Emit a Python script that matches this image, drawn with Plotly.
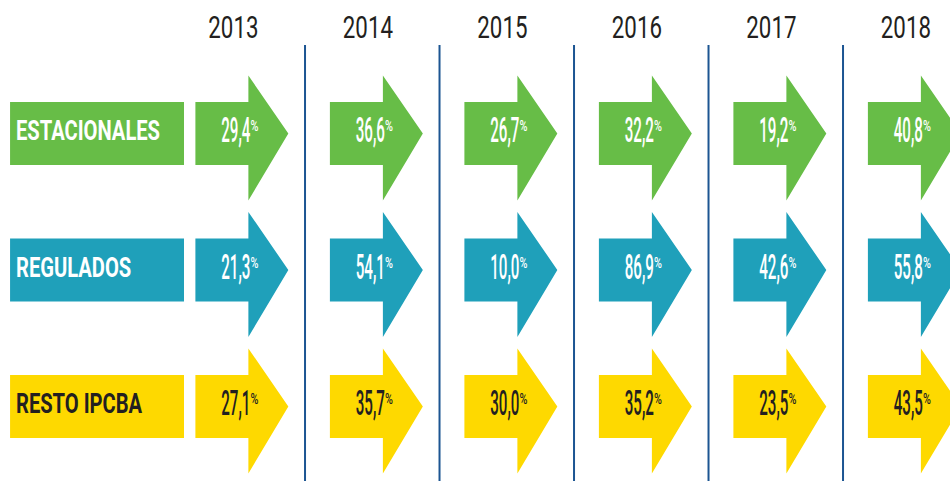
import plotly.graph_objects as go

# ---------------- data ----------------
years = ["2013", "2014", "2015", "2016", "2017", "2018"]
categories = ["ESTACIONALES", "REGULADOS", "RESTO IPCBA"]
estacionales = [29.4, 36.6, 26.7, 32.2, 19.2, 40.8]
regulados = [21.3, 54.1, 10.0, 86.9, 42.6, 55.8]
resto_ipcba = [27.1, 35.7, 30.0, 35.2, 23.5, 43.5]
series = [estacionales, regulados, resto_ipcba]

# ---------------- styles / layout constants ----------------
fill_colors = ["#67bd47", "#1fa0ba", "#fed900"]
text_colors = ["#ffffff", "#ffffff", "#231f20"]
line_color = "#1c5592"
dark = "#231f20"

BODY_W = 0.394      # arrow body length (column units)
ARROW_LEN = 0.691   # arrow total length
BODY_H = 0.2308     # half height of the body (row units)
HEAD_UP = 0.425     # head extent above centre
HEAD_DN = 0.491     # head extent below centre
NUM_END_DX = 0.409  # where the number ends / % starts
PCT_DY = -0.045
YEAR_DX = 0.2825
YEAR_Y = -0.758
LAB_X0, LAB_X1 = -1.378, -0.0848
LAB_TX = -1.334
LINE_DX = 0.815
LINE_Y0, LINE_Y1 = -0.648, 2.7

fig = go.Figure()

# label boxes
for r, cat in enumerate(categories):
    fig.add_trace(go.Scatter(
        x=[LAB_X0, LAB_X1, LAB_X1, LAB_X0, LAB_X0],
        y=[r - BODY_H, r - BODY_H, r + BODY_H, r + BODY_H, r - BODY_H],
        mode="lines", fill="toself", fillcolor=fill_colors[r],
        line=dict(width=0), hoverinfo="skip", showlegend=False))

# arrows
for r, vals in enumerate(series):
    for c, v in enumerate(vals):
        x0 = c
        xb = c + BODY_W
        xt = c + ARROW_LEN
        fig.add_trace(go.Scatter(
            x=[x0, xb, xb, xt, xb, xb, x0, x0],
            y=[r - BODY_H, r - BODY_H, r - HEAD_UP, r, r + HEAD_DN, r + BODY_H, r + BODY_H, r - BODY_H],
            mode="lines", fill="toself", fillcolor=fill_colors[r],
            line=dict(width=0), hoverinfo="skip", showlegend=False))

# separator lines
lx, ly = [], []
for c in range(len(years) - 1):
    lx += [c + LINE_DX, c + LINE_DX, None]
    ly += [LINE_Y0, LINE_Y1, None]
fig.add_trace(go.Scatter(x=lx, y=ly, mode="lines",
                         line=dict(color=line_color, width=2),
                         hoverinfo="skip", showlegend=False))

# value texts (number + small superscript %)
for r, vals in enumerate(series):
    fig.add_trace(go.Scatter(
        x=[c + NUM_END_DX for c in range(len(vals))], y=[r] * len(vals),
        mode="text", text=[f"{v:.1f}".replace(".", ",") for v in vals],
        textposition="middle left",
        textfont=dict(family="Roboto", size=36, color=text_colors[r], weight=500),
        hoverinfo="skip", showlegend=False))
    fig.add_trace(go.Scatter(
        x=[c + NUM_END_DX for c in range(len(vals))], y=[r + PCT_DY] * len(vals),
        mode="text", text=["%"] * len(vals), textposition="middle right",
        textfont=dict(family="Roboto", size=15, color=text_colors[r], weight=500),
        hoverinfo="skip", showlegend=False))

# category labels
for r, cat in enumerate(categories):
    fig.add_trace(go.Scatter(
        x=[LAB_TX], y=[r], mode="text", text=[cat], textposition="middle right",
        textfont=dict(family="Roboto", size=28, color=text_colors[r], weight="bold"),
        hoverinfo="skip", showlegend=False))

# year labels
fig.add_trace(go.Scatter(
    x=[c + YEAR_DX for c in range(len(years))], y=[YEAR_Y] * len(years),
    mode="text", text=years, textposition="middle center",
    textfont=dict(family="Roboto", size=31, color=dark),
    hoverinfo="skip", showlegend=False))

fig.update_layout(
    width=950, height=481,
    margin=dict(l=0, r=0, t=0, b=0),
    paper_bgcolor="white", plot_bgcolor="white",
    xaxis=dict(range=[-1.4528, 5.6104], visible=False, fixedrange=True),
    yaxis=dict(range=[2.546, -0.978], visible=False, fixedrange=True),
    showlegend=False,
)

# remove page margin; condensed look: compress text horizontally around its anchor
post = """
document.body.style.margin = '0';
var gd = document.getElementById('{plot_id}');
var S = {'36px': 0.42, '15px': 0.72, '28px': 0.72, '31px': 0.72};
gd.querySelectorAll('.textpoint text').forEach(function(t){
  var s = S[t.style.fontSize]; if (!s) return;
  var x = parseFloat(t.getAttribute('x'));
  t.setAttribute('transform', 'translate(' + x + ',0) scale(' + s + ',1) translate(' + (-x) + ',0)');
});
"""

fig.write_html("out.html", post_script=post, config={"displayModeBar": False, "staticPlot": True})
